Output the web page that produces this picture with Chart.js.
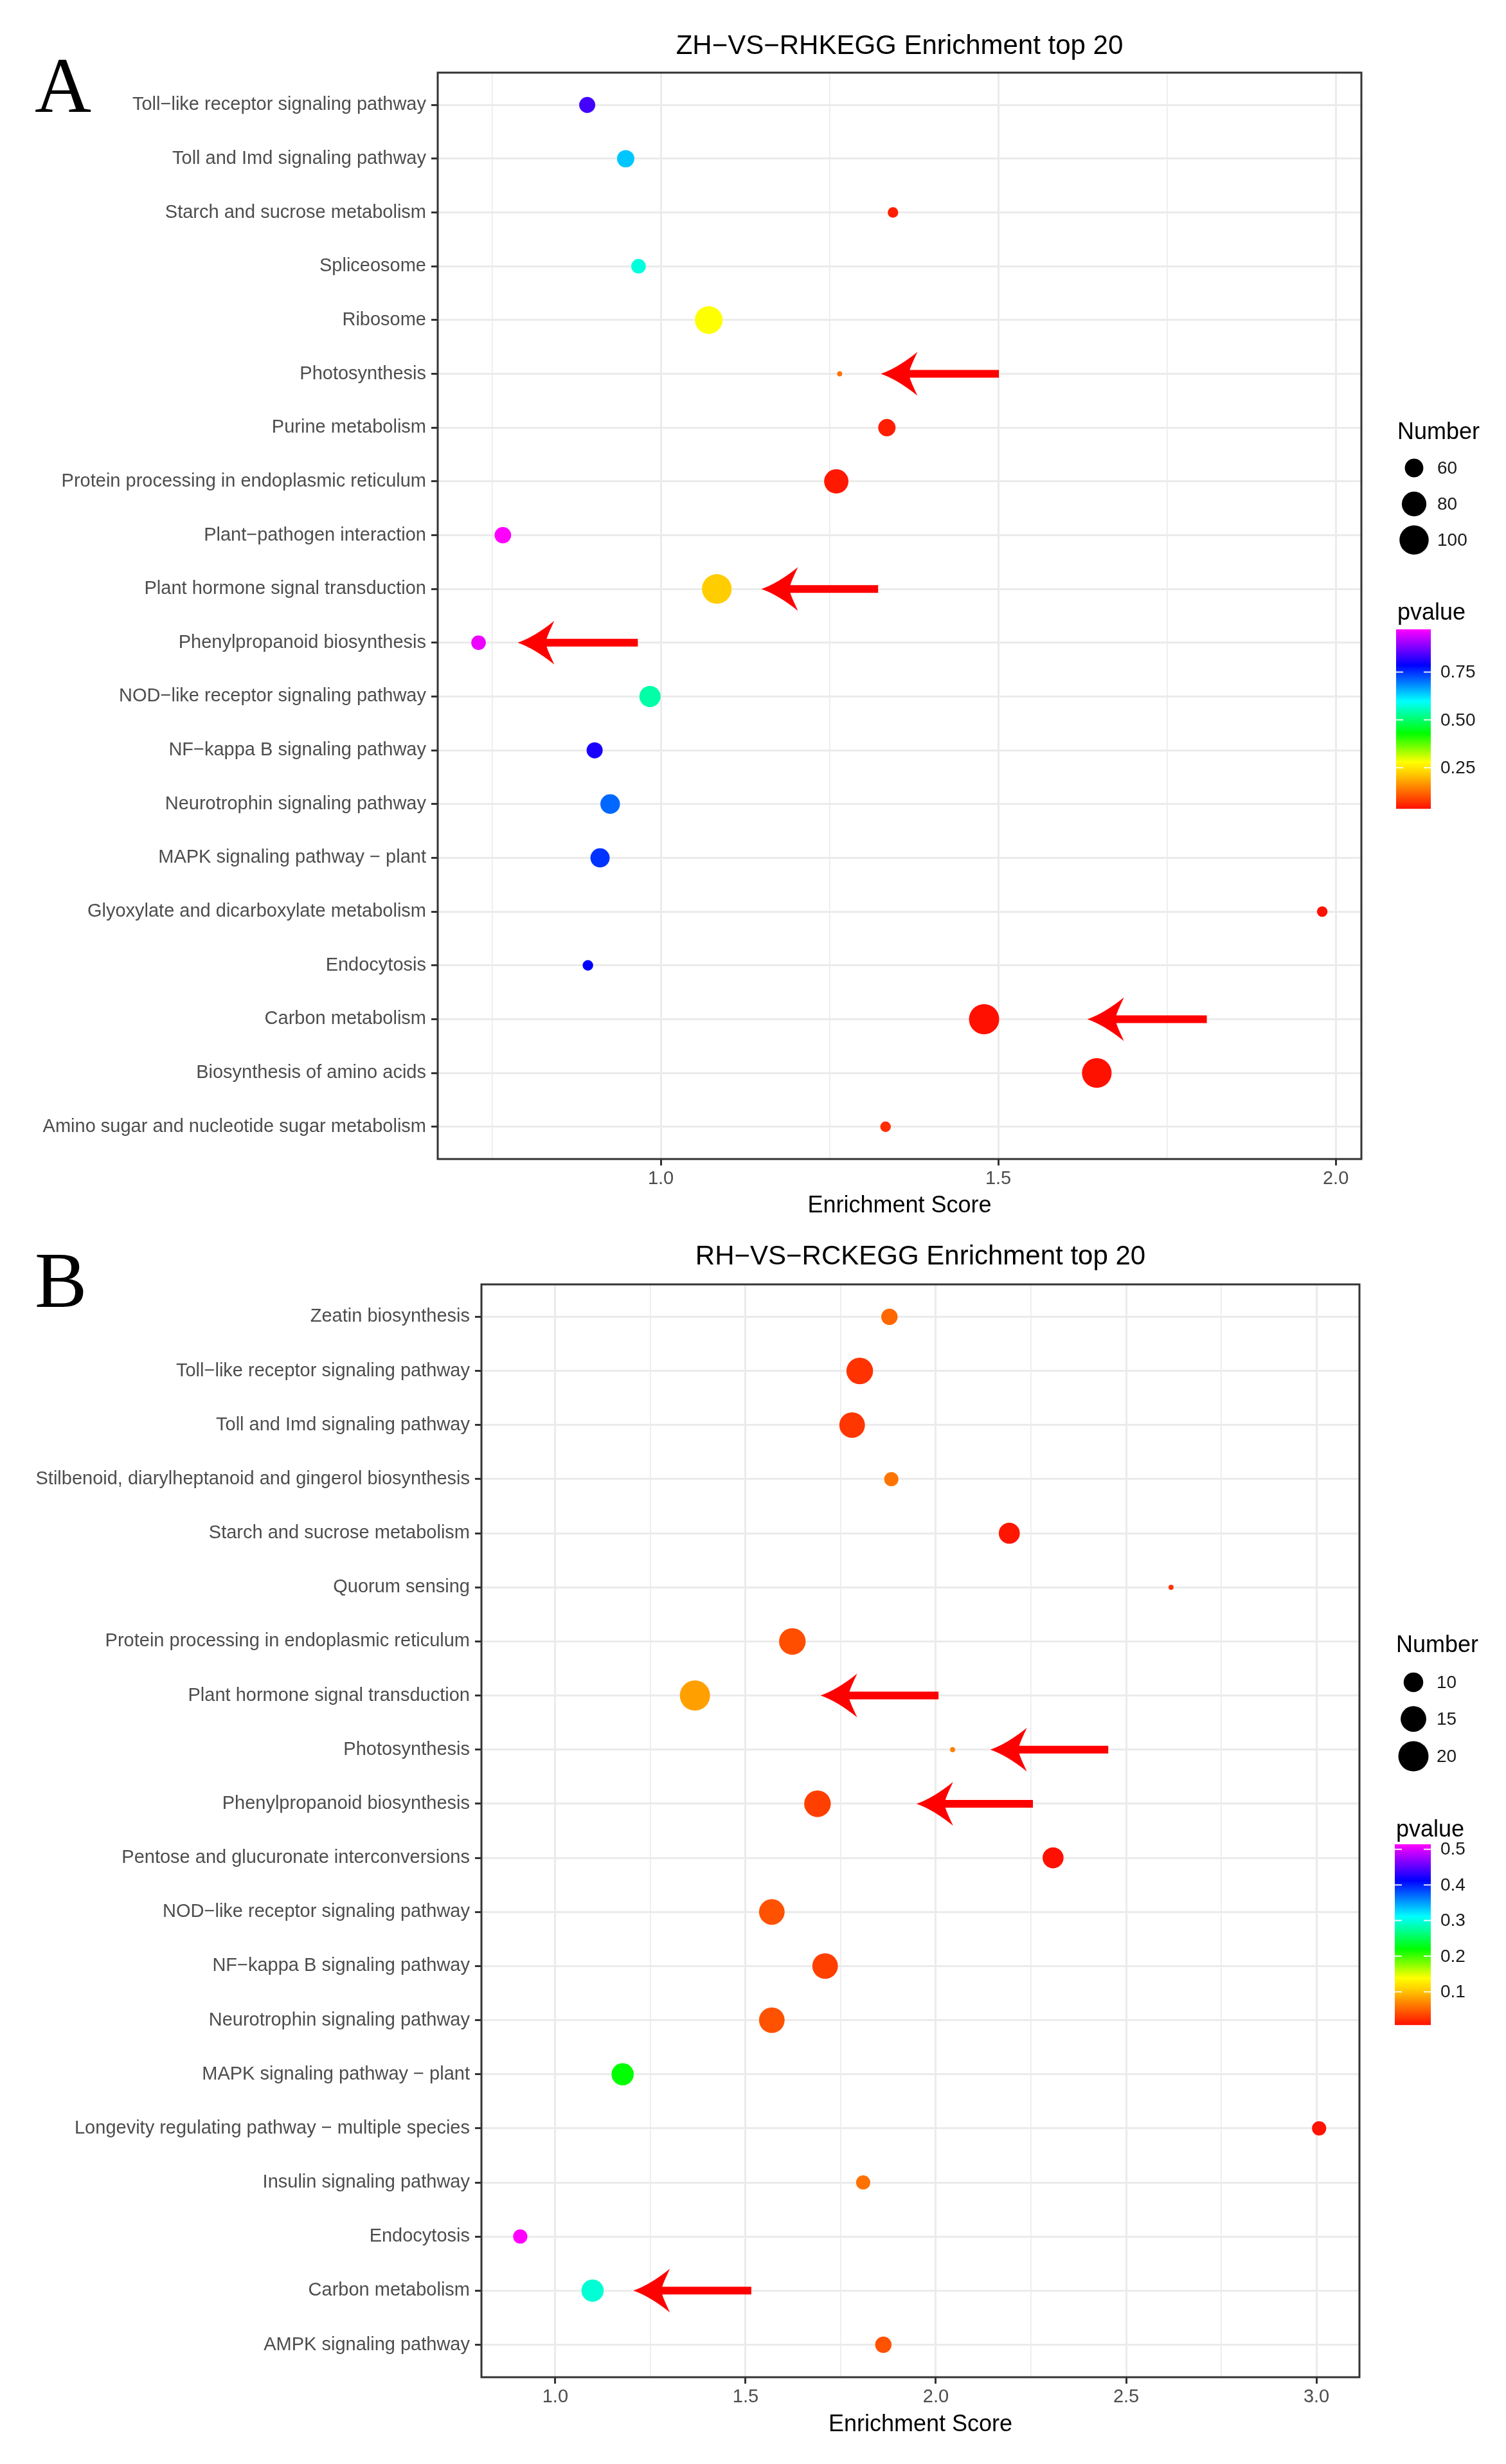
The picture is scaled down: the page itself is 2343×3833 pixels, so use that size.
<!DOCTYPE html>
<html>
<head>
<meta charset="utf-8">
<script src="https://cdn.jsdelivr.net/npm/chart.js@4.4.0/dist/chart.umd.min.js"></script>
<style>
  html, body { margin: 0; padding: 0; background: #fff; }
  body { width: 2343px; height: 3833px; position: relative; overflow: hidden; }
  canvas { position: absolute; left: 0; }
</style>
</head>
<body>
<canvas id="panelA" width="2343" height="1905" style="top:0"></canvas>
<canvas id="panelB" width="2343" height="1928" style="top:1905px"></canvas>
<script>
// ---- panel A: ZH-VS-RH ----
const pathwaysA = [
  'Toll−like receptor signaling pathway',
  'Toll and Imd signaling pathway',
  'Starch and sucrose metabolism',
  'Spliceosome',
  'Ribosome',
  'Photosynthesis',
  'Purine metabolism',
  'Protein processing in endoplasmic reticulum',
  'Plant−pathogen interaction',
  'Plant hormone signal transduction',
  'Phenylpropanoid biosynthesis',
  'NOD−like receptor signaling pathway',
  'NF−kappa B signaling pathway',
  'Neurotrophin signaling pathway',
  'MAPK signaling pathway − plant',
  'Glyoxylate and dicarboxylate metabolism',
  'Endocytosis',
  'Carbon metabolism',
  'Biosynthesis of amino acids',
  'Amino sugar and nucleotide sugar metabolism'
];
const scoreA = [0.891, 0.948, 1.344, 0.967, 1.071, 1.265, 1.335, 1.260, 0.766, 1.083,
                0.730, 0.984, 0.902, 0.925, 0.910, 1.980, 0.892, 1.479, 1.646, 1.333];
const countA = [54, 57, 45, 51, 93, 42, 57, 79, 55, 102, 51, 68, 54, 63, 62, 45, 45, 105, 102, 45];
const pvalA  = [0.835, 0.64, 0.05, 0.576, 0.28, 0.13, 0.05, 0.045, 0.973, 0.22,
                0.96, 0.54, 0.804, 0.71, 0.748, 0.036, 0.786, 0.036, 0.037, 0.064];
const xTicksA = [1.0, 1.5, 2.0];
const xMinorA = [0.75, 1.25, 1.75];
const sizeBreaksA = [60, 80, 100];
const colorBreaksA = [0.25, 0.50, 0.75];
const arrowRowsA  = ['Photosynthesis', 'Plant hormone signal transduction', 'Phenylpropanoid biosynthesis', 'Carbon metabolism'];
const arrowTipsA  = [1.326, 1.149, 0.788, 1.632];
const arrowTailsA = [1.501, 1.322, 0.966, 1.809];

// ---- panel B: RH-VS-RC ----
const pathwaysB = [
  'Zeatin biosynthesis',
  'Toll−like receptor signaling pathway',
  'Toll and Imd signaling pathway',
  'Stilbenoid, diarylheptanoid and gingerol biosynthesis',
  'Starch and sucrose metabolism',
  'Quorum sensing',
  'Protein processing in endoplasmic reticulum',
  'Plant hormone signal transduction',
  'Photosynthesis',
  'Phenylpropanoid biosynthesis',
  'Pentose and glucuronate interconversions',
  'NOD−like receptor signaling pathway',
  'NF−kappa B signaling pathway',
  'Neurotrophin signaling pathway',
  'MAPK signaling pathway − plant',
  'Longevity regulating pathway − multiple species',
  'Insulin signaling pathway',
  'Endocytosis',
  'Carbon metabolism',
  'AMPK signaling pathway'
];
const scoreB = [1.878, 1.800, 1.780, 1.883, 2.193, 2.618, 1.623, 1.367, 2.044, 1.689,
                2.308, 1.569, 1.709, 1.569, 1.177, 3.007, 1.809, 0.908, 1.098, 1.862];
const countB = [8, 16, 15, 7, 11, 5, 16, 20, 5, 16, 11, 15, 15, 15, 12, 7, 7, 7, 12, 8];
const pvalB  = [0.053, 0.025, 0.027, 0.06, 0.0095, 0.025, 0.04, 0.083, 0.065, 0.032,
                0.007, 0.042, 0.032, 0.042, 0.22, 0.008, 0.058, 0.514, 0.296, 0.042];
const xTicksB = [1.0, 1.5, 2.0, 2.5, 3.0];
const xMinorB = [1.25, 1.75, 2.25, 2.75];
const sizeBreaksB = [10, 15, 20];
const colorBreaksB = [0.1, 0.2, 0.3, 0.4, 0.5];
const arrowRowsB  = ['Plant hormone signal transduction', 'Photosynthesis', 'Phenylpropanoid biosynthesis', 'Carbon metabolism'];
const arrowTipsB  = [1.697, 2.143, 1.949, 1.205];
const arrowTailsB = [2.007, 2.453, 2.255, 1.515];

// rainbow palette like the ggplot gradient (low p = red, high p = magenta)
const rainbow = [[0, '#ff1000'], [0.1, '#ff7000'], [0.2, '#ffd000'], [0.26, '#ffff00'],
                 [0.42, '#00ff00'], [0.6, '#00ffff'], [0.8, '#0000ff'], [1, '#ff00ff']];
const FONT = '"Liberation Sans", Arial, sans-serif';

function hexRgb(h) {
  return [parseInt(h.slice(1, 3), 16), parseInt(h.slice(3, 5), 16), parseInt(h.slice(5, 7), 16)];
}

function colourAt(p, lo, hi) {
  const t = Math.min(1, Math.max(0, (p - lo) / (hi - lo)));
  for (let i = 1; i < rainbow.length; i++) {
    if (t <= rainbow[i][0]) {
      const [t0, c0] = rainbow[i - 1], [t1, c1] = rainbow[i];
      const f = (t - t0) / (t1 - t0);
      const a = hexRgb(c0), b = hexRgb(c1);
      return 'rgb(' + a.map((v, k) => Math.round(v + (b[k] - v) * f)).join(',') + ')';
    }
  }
  return rainbow[rainbow.length - 1][1];
}

// ggplot scale_size style: area grows with count, size range 1..6
function radiusFor(n, lo, hi) {
  const t = Math.min(1, Math.max(0, (n - lo) / (hi - lo)));
  return 3.92 * (1 + 5 * Math.sqrt(t));
}

function drawArrow(ctx, tipX, tailX, y) {
  ctx.beginPath();
  ctx.moveTo(tipX, y);
  ctx.quadraticCurveTo(tipX + 26, y - 9, tipX + 57, y - 34);
  ctx.quadraticCurveTo(tipX + 47, y - 13, tipX + 45, y - 6);
  ctx.lineTo(tailX, y - 6);
  ctx.lineTo(tailX, y + 6);
  ctx.lineTo(tipX + 45, y + 6);
  ctx.quadraticCurveTo(tipX + 47, y + 13, tipX + 57, y + 34);
  ctx.quadraticCurveTo(tipX + 26, y + 9, tipX, y);
  ctx.closePath();
  ctx.fill();
}

const decor = {
  id: 'decor',
  afterDatasetsDraw(chart, args, o) {
    const { ctx, chartArea: a } = chart;
    const x = chart.scales.x, y = chart.scales.y;
    ctx.save();

    // panel border
    ctx.strokeStyle = '#333333';
    ctx.lineWidth = 3;
    ctx.strokeRect(a.left, a.top, a.right - a.left, a.bottom - a.top);

    // red arrows
    ctx.fillStyle = '#ff0000';
    o.arrowRows.forEach((row, i) => {
      const yy = y.getPixelForValue(o.cats.indexOf(row) + 1);
      drawArrow(ctx, x.getPixelForValue(o.tips[i]), x.getPixelForValue(o.tails[i]), yy);
    });

    // titles
    const cx = (a.left + a.right) / 2;
    ctx.fillStyle = '#000';
    ctx.textAlign = 'center';
    ctx.textBaseline = 'alphabetic';
    ctx.font = '42px ' + FONT;
    ctx.fillText(o.title, cx, o.titleY);
    ctx.font = '36px ' + FONT;
    ctx.fillText('Enrichment Score', cx, o.xTitleY);

    // panel letter
    ctx.textAlign = 'left';
    ctx.font = '122px "Liberation Serif", "Times New Roman", serif';
    ctx.fillText(o.letter, o.letterX, o.letterY);

    // size legend
    ctx.font = '36px ' + FONT;
    ctx.fillText('Number', o.legX, o.numberY);
    ctx.font = '28px ' + FONT;
    ctx.textBaseline = 'middle';
    o.sizeBreaks.forEach((n, i) => {
      const cy = o.sizeY[i];
      ctx.fillStyle = '#000';
      ctx.beginPath();
      ctx.arc(o.circX, cy, radiusFor(n, o.nLo, o.nHi), 0, Math.PI * 2);
      ctx.fill();
      ctx.fillStyle = '#1a1a1a';
      ctx.fillText(String(n), o.circX + 36, cy + 1);
    });

    // colour bar
    ctx.fillStyle = '#000';
    ctx.textBaseline = 'alphabetic';
    ctx.font = '36px ' + FONT;
    ctx.fillText('pvalue', o.legX, o.pTitleY);
    const [bx0, bx1] = o.barX, [by0, by1] = o.barY;
    const pAt = (py) => o.pHi - (py - by0) / (by1 - by0) * (o.pHi - o.pLo);
    const yAt = (p) => by0 + (o.pHi - p) / (o.pHi - o.pLo) * (by1 - by0);
    for (let py = by0; py < by1; py += 1) {
      ctx.fillStyle = colourAt(pAt(py + 0.5), o.pLo, o.pHi);
      ctx.fillRect(bx0, py, bx1 - bx0, 1.2);
    }
    ctx.strokeStyle = 'rgba(255,255,255,0.9)';
    ctx.lineWidth = 2;
    ctx.font = '28px ' + FONT;
    ctx.textBaseline = 'middle';
    ctx.fillStyle = '#1a1a1a';
    o.colorBreaks.forEach((p) => {
      const py = yAt(p);
      ctx.beginPath();
      ctx.moveTo(bx0, py); ctx.lineTo(bx0 + 11, py);
      ctx.moveTo(bx1 - 11, py); ctx.lineTo(bx1, py);
      ctx.stroke();
      ctx.fillText(o.breakText(p), bx1 + 15, py + 1);
    });
    ctx.restore();
  }
};

function makePanel(id, cats, scores, counts, pvals, xTicks, xMinor, cfg) {
  const nLo = Math.min(...counts), nHi = Math.max(...counts);
  const pLo = Math.min(...pvals), pHi = Math.max(...pvals);
  const isMajor = (v) => xTicks.some((t) => Math.abs(t - v) < 1e-9);
  return new Chart(document.getElementById(id), {
    type: 'scatter',
    data: {
      datasets: [{
        data: scores.map((s, i) => ({ x: s, y: i + 1 })),
        pointRadius: (c) => radiusFor(counts[c.dataIndex], nLo, nHi),
        pointHoverRadius: (c) => radiusFor(counts[c.dataIndex], nLo, nHi),
        pointBackgroundColor: (c) => colourAt(pvals[c.dataIndex], pLo, pHi),
        pointBorderWidth: 0
      }]
    },
    options: {
      responsive: false,
      animation: false,
      events: [],
      layout: { padding: { top: cfg.padTop, right: cfg.padRight, left: 0, bottom: 0 } },
      scales: {
        x: {
          type: 'linear',
          min: cfg.xMin,
          max: cfg.xMax,
          afterBuildTicks: (s) => { s.ticks = [...xTicks, ...xMinor].sort((p, q) => p - q).map((v) => ({ value: v })); },
          afterFit: (s) => { s.height = cfg.xAxisH; },
          border: { display: false },
          grid: {
            color: '#ebebeb',
            lineWidth: (c) => (c.tick && isMajor(c.tick.value) ? 3 : 1.6),
            tickColor: (c) => (c.tick && isMajor(c.tick.value) ? '#333333' : 'rgba(0,0,0,0)'),
            tickWidth: 3,
            tickLength: 10
          },
          ticks: {
            autoSkip: false,
            maxRotation: 0,
            padding: 4,
            color: '#4d4d4d',
            font: { family: FONT, size: 29 },
            callback: (v) => (isMajor(v) ? Number(v).toFixed(1) : '')
          }
        },
        y: {
          type: 'linear',
          reverse: true,
          min: 0.4,
          max: cats.length + 0.6,
          afterBuildTicks: (s) => { s.ticks = cats.map((_, i) => ({ value: i + 1 })); },
          afterFit: (s) => { s.width = cfg.yAxisW; },
          border: { display: false },
          grid: { color: '#ebebeb', lineWidth: 3, tickColor: '#333333', tickWidth: 3, tickLength: 10 },
          ticks: {
            autoSkip: false,
            padding: 8,
            color: '#4d4d4d',
            font: { family: FONT, size: 29 },
            callback: (v) => cats[Math.round(v) - 1]
          }
        }
      },
      plugins: {
        legend: { display: false },
        tooltip: { enabled: false },
        decor: Object.assign({ cats, nLo, nHi, pLo, pHi }, cfg.decor)
      }
    },
    plugins: [decor]
  });
}

makePanel('panelA', pathwaysA, scoreA, countA, pvalA, xTicksA, xMinorA, {
  padTop: 113, padRight: 225, xAxisH: 102, yAxisW: 681, xMin: 0.6695, xMax: 2.038,
  decor: {
    title: 'ZH−VS−RHKEGG Enrichment top 20', titleY: 84, xTitleY: 1886,
    letter: 'A', letterX: 54, letterY: 174,
    arrowRows: arrowRowsA, tips: arrowTipsA, tails: arrowTailsA,
    legX: 2174, numberY: 683, circX: 2200, sizeY: [728, 784, 840], sizeBreaks: sizeBreaksA,
    pTitleY: 964, barX: [2172, 2226], barY: [979, 1258], colorBreaks: colorBreaksA,
    breakText: (p) => p.toFixed(2)
  }
});

makePanel('panelB', pathwaysB, scoreB, countB, pvalB, xTicksB, xMinorB, {
  padTop: 93, padRight: 228, xAxisH: 135, yAxisW: 749, xMin: 0.806, xMax: 3.113,
  decor: {
    title: 'RH−VS−RCKEGG Enrichment top 20', titleY: 62, xTitleY: 1877,
    letter: 'B', letterX: 54, letterY: 128,
    arrowRows: arrowRowsB, tips: arrowTipsB, tails: arrowTailsB,
    legX: 2172, numberY: 665, circX: 2199, sizeY: [712, 769, 827], sizeBreaks: sizeBreaksB,
    pTitleY: 952, barX: [2170, 2226], barY: [964, 1245], colorBreaks: colorBreaksB,
    breakText: (p) => p.toFixed(1)
  }
});
</script>
</body>
</html>
